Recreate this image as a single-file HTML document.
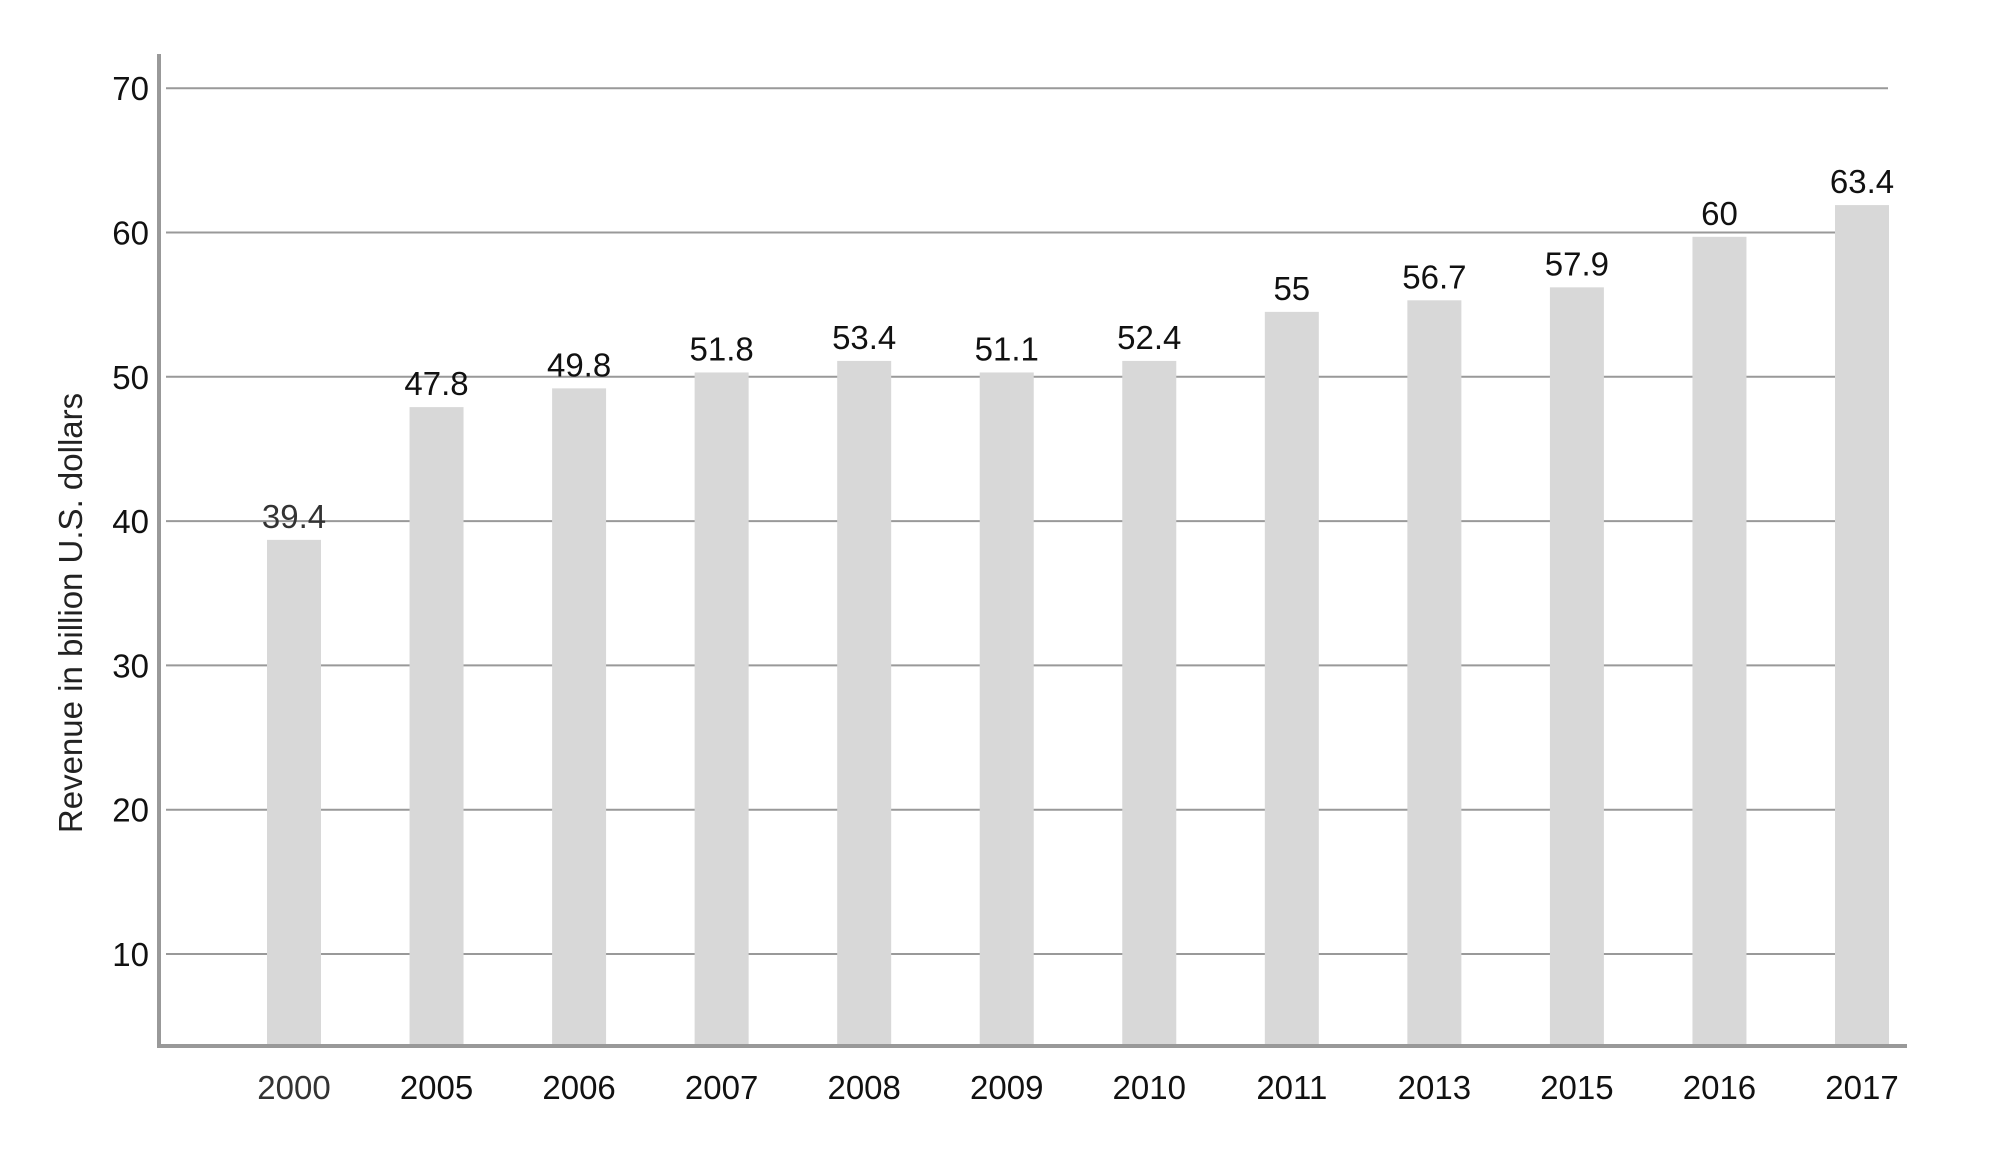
<!DOCTYPE html>
<html><head><meta charset="utf-8"><style>
html,body{margin:0;padding:0;background:#fff;}
svg text{font-family:"Liberation Sans",Arial,sans-serif;}
</style></head><body>
<svg id="chart" width="2000" height="1153" xmlns="http://www.w3.org/2000/svg">
<g id="grid"></g>
<g id="bars"></g>
<g id="labels"></g>
<g id="xt"></g>
<g id="yt"></g>
<line x1="159" y1="54" x2="159" y2="1048" stroke="#999" stroke-width="4"/>
<line x1="157" y1="1046" x2="1907" y2="1046" stroke="#999" stroke-width="4"/>
<text transform="translate(82,613) rotate(-90)" text-anchor="middle" font-size="33" fill="#222">Revenue in billion U.S. dollars</text>
</svg>
<script>
const categories = ["2000","2005","2006","2007","2008","2009","2010","2011","2013","2015","2016","2017"];
const values = [39.4,47.8,49.8,51.8,53.4,51.1,52.4,55,56.7,57.9,60,63.4];
const barValues = [38.7,47.9,49.2,50.3,51.1,50.3,51.1,54.5,55.3,56.2,59.7,61.9];
const yTicks = [10,20,30,40,50,60,70];
const NS="http://www.w3.org/2000/svg";
function y(v){return 1098.3 - v*14.43;}
function x(i){return 294 + i*(1862-294)/(categories.length-1);}
function mk(tag,attrs,parent){const e=document.createElementNS(NS,tag);for(const k in attrs)e.setAttribute(k,attrs[k]);parent.appendChild(e);return e;}
const grid=document.getElementById('grid'),bars=document.getElementById('bars'),labels=document.getElementById('labels'),xt=document.getElementById('xt'),yt=document.getElementById('yt');
yTicks.forEach(t=>{
  const l=mk('line',{x1:166,x2:1888,y1:y(t),y2:y(t),stroke:'#999','stroke-width':2},grid);
  
  
  const tx=mk('text',{x:149,y:y(t)+12,'text-anchor':'end','font-size':33,fill:'#111'},yt);
  tx.textContent=t;
  
  
});
categories.forEach((c,i)=>{
  const cx=x(i),bv=barValues[i];
  const r=mk('rect',{x:cx-27,y:y(bv),width:54,height:1044-y(bv),fill:'#d8d8d8'},bars);
  
  
  const lb=mk('text',{x:cx,y:y(bv)-12,'text-anchor':'middle','font-size':33,fill:i==0?'#333':'#111'},labels);
  lb.textContent=values[i];
  
  
  const xl=mk('text',{x:cx,y:1099,'text-anchor':'middle','font-size':33,fill:i==0?'#333':'#111'},xt);
  xl.textContent=c;
  
  
});
</script>
</body></html>
